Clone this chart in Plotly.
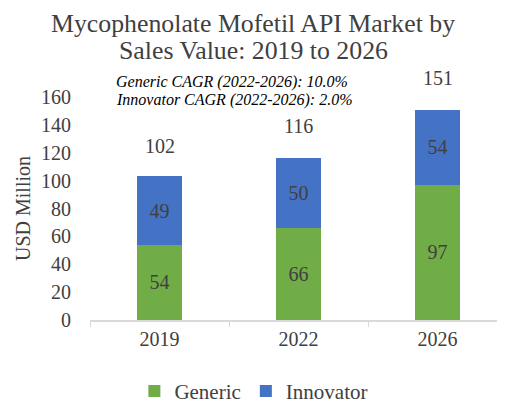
import plotly.graph_objects as go

years = ["2019", "2022", "2026"]
generic = [54, 66, 97]
innovator = [49, 50, 54]
totals = [102, 116, 151]

FONT = "Liberation Serif, Times New Roman, serif"
TXT = "#404040"

fig = go.Figure()
fig.add_trace(go.Bar(name="Generic", x=years, y=generic, marker=dict(color="#70ad47", line=dict(width=0)),
                     text=[str(v) for v in generic], textposition="inside", insidetextanchor="middle",
                     textfont=dict(family=FONT, size=20, color=TXT)))
fig.add_trace(go.Bar(name="Innovator", x=years, y=innovator, marker=dict(color="#4472c4", line=dict(width=0)),
                     text=[str(v) for v in innovator], textposition="inside", insidetextanchor="middle",
                     textfont=dict(family=FONT, size=20, color=TXT)))

for i, t in enumerate(totals):
    fig.add_annotation(x=i, y=t, text=str(t), showarrow=False, yanchor="bottom", yshift=19,
                       font=dict(family=FONT, size=20, color=TXT))

fig.add_annotation(xref="paper", yref="paper", x=0.058, y=1.067, xanchor="left", yanchor="middle",
                   text="<i>Generic CAGR (2022-2026): 10.0%</i>", showarrow=False,
                   font=dict(family=FONT, size=16, color="#000000"))
fig.add_annotation(xref="paper", yref="paper", x=0.058, y=0.987, xanchor="left", yanchor="middle",
                   text="<i>Innovator CAGR (2022-2026): 2.0%</i>", showarrow=False,
                   font=dict(family=FONT, size=16, color="#000000"))

# title lines as annotations
fig.add_annotation(xref="paper", yref="paper", x=0.391, y=1.329, xanchor="center", yanchor="middle",
                   text="Mycophenolate Mofetil API Market by", showarrow=False,
                   font=dict(family=FONT, size=25.8, color=TXT))
fig.add_annotation(xref="paper", yref="paper", x=0.391, y=1.207, xanchor="center", yanchor="middle",
                   text="Sales Value: 2019 to 2026", showarrow=False,
                   font=dict(family=FONT, size=25.8, color=TXT))

fig.update_layout(
    width=505, height=403,
    margin=dict(l=82, r=6, t=89, b=91, autoexpand=False),
    paper_bgcolor="white", plot_bgcolor="white",
    barmode="stack", bargap=0.68,
    font=dict(family=FONT, color=TXT),
    xaxis=dict(type="category", range=[-0.5, 2.5], showline=True, linecolor="#d9d9d9", linewidth=1.5,
               tickson="boundaries", ticks="outside", ticklen=5, tickcolor="#d9d9d9", showgrid=False,
               tickfont=dict(family=FONT, size=20, color=TXT)),
    yaxis=dict(range=[0, 160], dtick=20, showgrid=False, showline=False, zeroline=False,
               ticks="outside", ticklen=14, tickcolor="rgba(0,0,0,0)",
               tickfont=dict(family=FONT, size=20, color=TXT),
               title=dict(text="USD Million", font=dict(family=FONT, size=20, color=TXT), standoff=5)),
    legend=dict(orientation="h", x=0.393, xanchor="center", y=-0.228, yanchor="top",
                font=dict(family=FONT, size=21, color=TXT), traceorder="normal", itemwidth=30),
    showlegend=True,
)
fig.write_html("out.html")
